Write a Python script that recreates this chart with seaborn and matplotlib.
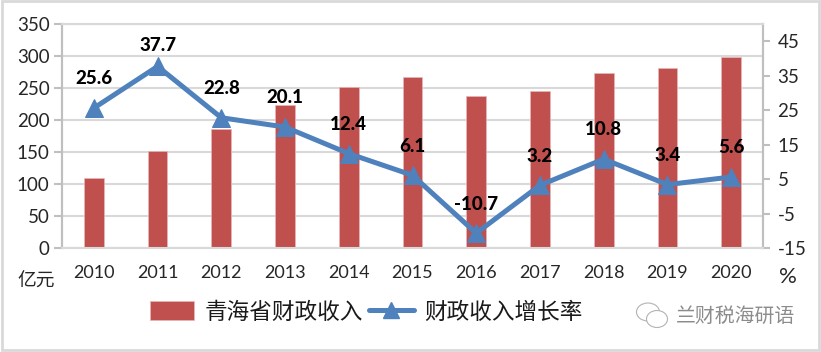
import matplotlib
matplotlib.use('Agg')
import matplotlib.pyplot as plt
from matplotlib.lines import Line2D
from matplotlib.patches import Patch, Rectangle, Ellipse
import seaborn as sns

years = ['2010', '2011', '2012', '2013', '2014', '2015', '2016', '2017', '2018', '2019', '2020']
revenue = [109, 152, 186, 223, 251, 267, 238, 246, 273, 282, 298]
growth = [25.6, 37.7, 22.8, 20.1, 12.4, 6.1, -10.7, 3.2, 10.8, 3.4, 5.6]

revenue_name = '青海省财政收入'
growth_name = '财政收入增长率'

RED = '#C0504D'
BLUE = '#4F81BD'
GRID = '#D9D9D9'
AXIS = '#BFBFBF'
TEXT = '#262626'

sns.set_style('white')
plt.rcParams['font.family'] = ['Lato', 'Noto Sans CJK SC', 'DejaVu Sans']
plt.rcParams['axes.unicode_minus'] = False

fig = plt.figure(figsize=(8.21, 3.52), dpi=100, facecolor='white')
W, H = 821, 352
ax = fig.add_axes([62 / W, 1 - 248 / H, 701 / W, 224 / H])

# columns on the left axis
sns.barplot(x=years, y=revenue, color=RED, saturation=1, width=0.31, ax=ax,
            edgecolor='#E6B8B7', linewidth=0.5, zorder=3)
ax.set_xlim(-0.5, 10.5)
ax.set_ylim(0, 350)
ax.set_yticks(range(0, 351, 50))
ax.grid(axis='y', color=GRID, linewidth=1.5, zorder=0)
ax.set_axisbelow(True)
ax.tick_params(axis='y', length=6, width=1.5, color=AXIS, labelsize=13.5, labelcolor=TEXT, pad=3, left=True)
ax.tick_params(axis='x', length=0, labelsize=13, labelcolor=TEXT, pad=12)

# growth rate on the right axis
ax2 = ax.twinx()
sns.lineplot(x=years, y=growth, sort=False, color=BLUE, linewidth=3.6, marker='^',
             markersize=12.5, markeredgecolor=BLUE, ax=ax2, zorder=4)
ax2.set_ylim(-15, 50)
ax2.set_yticks(range(-15, 46, 10))
ax2.tick_params(axis='y', length=5, width=1.5, color=AXIS, labelsize=13.5, labelcolor=TEXT, pad=5.5, right=True)
ax2.set_ylabel('')
ax2.grid(False)

for a in (ax, ax2):
    for side in a.spines:
        a.spines[side].set_color(GRID)
        a.spines[side].set_linewidth(1.5)
    a.spines['left'].set_color(AXIS)
    a.spines['right'].set_color(AXIS)

# data labels sit above the markers, the 2011 one is closer
for i, val in enumerate(growth):
    up = 15 if years[i] == '2011' else 21
    ax2.annotate(str(val), (i, val), xytext=(0, up), textcoords='offset points',
                 ha='center', va='center', fontsize=13.5, fontweight=900, color='black',
                 family='Lato', zorder=6)

# unit labels
fig.text(36 / W, 1 - 281 / H, '亿元', ha='center', va='center', fontsize=13.5, color=TEXT)
fig.text(788 / W, 1 - 277 / H, '%', ha='center', va='center', fontsize=16, color=TEXT)

# legend
handles = [Patch(facecolor=RED, edgecolor='#E6B8B7', linewidth=0.5),
           Line2D([0], [0], color=BLUE, linewidth=3.6, marker='^', markersize=12)]
fig.legend(handles, [revenue_name, growth_name], loc='center', bbox_to_anchor=(366 / W, 1 - 312 / H),
           ncol=2, frameon=False, fontsize=16.3, columnspacing=0.3, handlelength=1.95,
           handleheight=0.9, handletextpad=0.45, labelcolor='#1A1A1A')

# watermark with the two chat bubbles
fig.text(735 / W, 1 - 316 / H, '兰财税海研语', ha='center', va='center', fontsize=14.3, color='#8C8C8C')
fig.add_artist(Ellipse((648 / W, 1 - 312 / H), 23 / W, 18 / H, transform=fig.transFigure,
                       facecolor='white', edgecolor='#B3B3B3', linewidth=0.8))
fig.add_artist(Ellipse((657 / W, 1 - 319 / H), 21 / W, 17 / H, transform=fig.transFigure,
                       facecolor='white', edgecolor='#B3B3B3', linewidth=0.8))

# outer frame of the screenshot
fig.add_artist(Rectangle((1.5 / W, 1 - 350 / H), 817 / W, 349 / H, transform=fig.transFigure,
                         fill=False, edgecolor=GRID, linewidth=2))

plt.savefig('out.png', dpi=100)
